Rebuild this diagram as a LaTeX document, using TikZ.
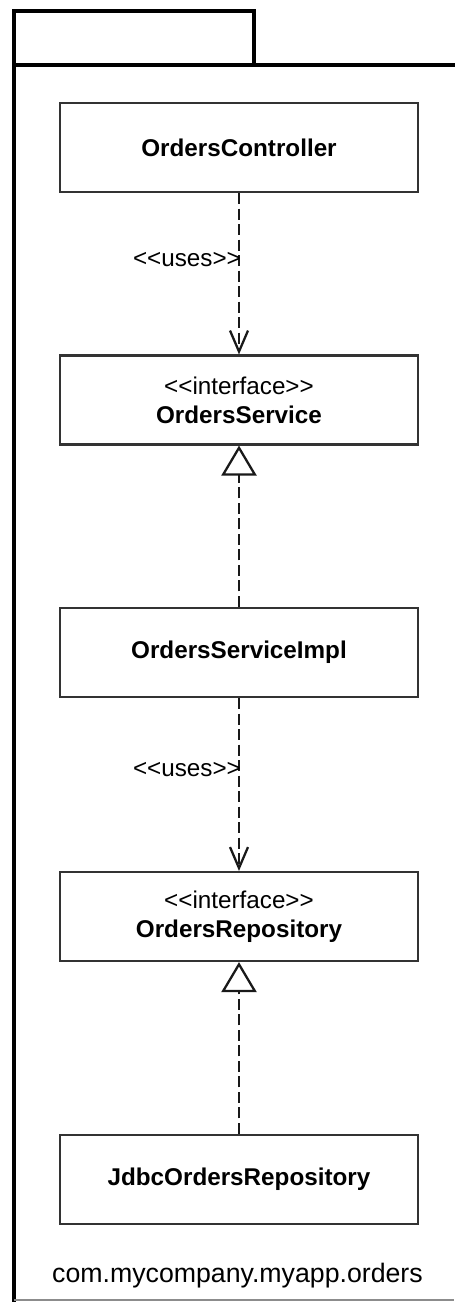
\documentclass[tikz,border=0pt]{standalone}
\usepackage{fontspec}
\setmainfont{Liberation Sans}
\usepackage{tikz}
\usetikzlibrary{arrows.meta}

\begin{document}
\begin{tikzpicture}[x=0.02cm,y=-0.02cm,
    cls/.style={
        draw=black!80,
        line width=1.2pt,
        minimum width=7.16cm,
        minimum height=1.78cm,
        inner sep=0pt,
        align=center,
        font=\fontsize{13.8pt}{16.5pt}\selectfont
    },
    pkgLine/.style={
        black,
        line width=2.3pt,
        line cap=rect
    },
    usesArrow/.style={
        black!90,
        line width=1.3pt,
        dash pattern=on 0.22cm off 0.09cm,
        -{Straight Barb[length=0.42cm,width=0.36cm,line width=1.3pt]}
    },
    realizeArrow/.style={
        black!90,
        line width=1.3pt,
        dash pattern=on 0.22cm off 0.09cm,
        -{Triangle[open,length=0.6cm,width=0.7cm,line width=1.3pt,fill=white]}
    },
    stereo/.style={
        font=\fontsize{13.8pt}{16.5pt}\selectfont,
        inner sep=1pt
    }
]
\path[use as bounding box] (0,0) rectangle (454,1302);

\draw[pkgLine] (14,1302) -- (14,11) -- (254,11) -- (254,65);
\draw[pkgLine] (14,65) -- (454,65);
\draw[black!45, line width=0.6pt] (14,1300) -- (454,1300);

\node[cls] (ctrl) at (239,147.5) {\textbf{OrdersController}};
\node[cls] (svc) at (239,400) {{<}{<}interface{>}{>}\\\textbf{OrdersService}};
\node[cls] (impl) at (239,652.5) {\textbf{OrdersServiceImpl}};
\node[cls] (repo) at (239,916.5) {{<}{<}interface{>}{>}\\\textbf{OrdersRepository}};
\node[cls] (jdbc) at (239,1179.5) {\textbf{JdbcOrdersRepository}};

\draw[usesArrow] (ctrl.south) -- (svc.north);
\draw[realizeArrow] (impl.north) -- (svc.south);
\draw[usesArrow] (impl.south) -- (repo.north);
\draw[realizeArrow] (jdbc.north) -- (repo.south);

\node[stereo, anchor=east] (uses1) at (243,260) {{<}{<}uses{>}{>}};
\node[stereo, anchor=east] (uses2) at (243,770) {{<}{<}uses{>}{>}};

\node[font=\fontsize{15.2pt}{18pt}\selectfont] (pkgName) at (237.5,1276) {com.mycompany.myapp.orders};
\end{tikzpicture}
\end{document}
